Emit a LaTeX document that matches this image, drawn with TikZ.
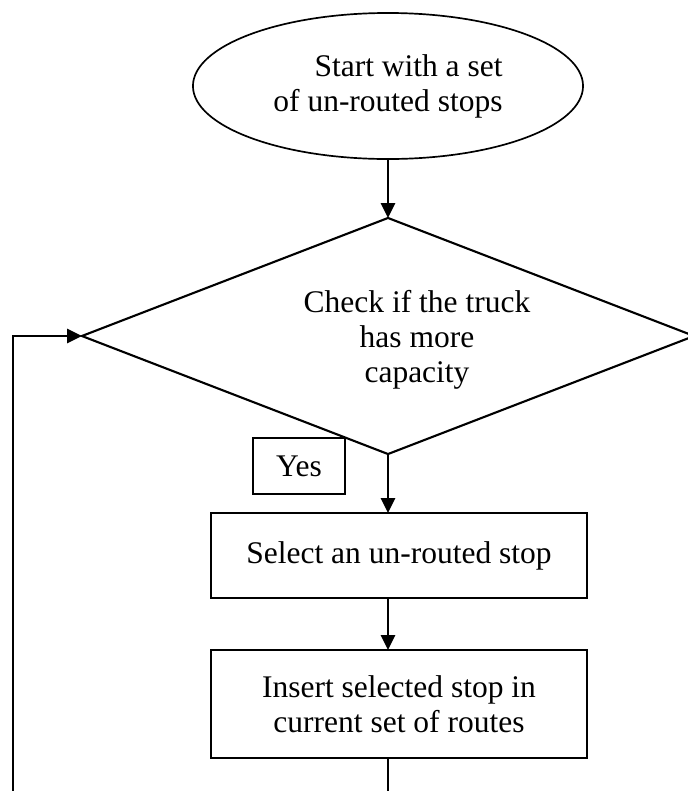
\documentclass[tikz,border=0pt]{standalone}
\usepackage{fontspec}
\setmainfont{Liberation Serif}
\usetikzlibrary{arrows.meta,shapes.geometric}

\begin{document}
\begin{tikzpicture}[x=0.025cm, y=-0.025cm,
  flowbox/.style={draw, line width=1.5pt, inner sep=0pt, outer sep=0pt},
  link/.style={line width=1.6pt, -{Triangle[length=10.5pt,width=10pt]}},
  every node/.style={font=\fontsize{22.4}{25}\selectfont}]
\useasboundingbox (0,0) rectangle (687,791);

\node[flowbox, line width=1.2pt, ellipse, minimum width=9.75cm, minimum height=3.65cm, align=right] (start) at (388,86) {Start with a set\\of un-routed stops};
\node[flowbox, diamond, minimum width=15.3cm, minimum height=5.9cm] (check) at (388,336) {};
\node[align=center] (checktext) at (417,340) {Check if the truck\\has more\\capacity};
\node[flowbox, minimum width=2.3cm, minimum height=1.4cm] (yes) at (299,466) {Yes};
\node[flowbox, minimum width=9.4cm, minimum height=2.125cm] (select) at (399,555.5) {Select an un-routed stop};
\node[flowbox, minimum width=9.4cm, minimum height=2.7cm, align=center] (insert) at (399,704) {Insert selected stop in\\current set of routes};
\coordinate (loopend) at (13,791);
\coordinate (exit) at (388,791);

\draw[link] (start.south) -- (check.north);
\draw[link] (check.south) -- (check.south |- select.north);
\draw[link] (check.south |- select.south) -- (check.south |- insert.north);
\draw[line width=1.1pt] (check.south |- insert.south) -- (exit);
\draw[link] (loopend) |- (check.west);
\end{tikzpicture}
\end{document}
